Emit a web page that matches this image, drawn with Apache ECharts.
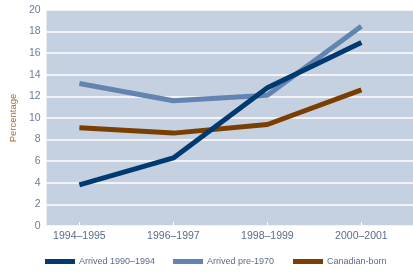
<!DOCTYPE html>
<html>
<head>
<meta charset="utf-8">
<script src="https://cdn.jsdelivr.net/npm/echarts@6/dist/echarts.min.js"></script>
<style>html,body{margin:0;padding:0;background:#fff}#c{width:413px;height:274px}</style>
</head>
<body>
<div id="c"></div>
<script>
var categories = ['1994\u20131995', '1996\u20131997', '1998\u20131999', '2000\u20132001'];
var arrived1990_1994 = [3.8, 6.3, 12.8, 17.0];
var arrivedPre1970 = [13.2, 11.6, 12.1, 18.5];
var canadianBorn = [9.1, 8.6, 9.4, 12.6];
var yTicks = [0, 2, 4, 6, 8, 10, 12, 14, 16, 18, 20];
var seriesNames = ['Arrived 1990\u20131994', 'Arrived pre-1970', 'Canadian-born'];
var yAxisName = 'Percentage';

var FONT = '"Liberation Sans", Arial, sans-serif';
var colors = { a: '#003a70', b: '#6384b0', c: '#7a3f00' };

function pts(arr) { return arr.map(function (v, i) { return [i, v]; }); }
var idx = categories.map(function (_, i) { return i; });

var chart = echarts.init(document.getElementById('c'), null, { renderer: 'canvas' });
chart.setOption({
  animation: false,
  grid: { left: 44, right: 0, top: 10, bottom: 48, show: true, backgroundColor: '#c5d0e1', borderWidth: 0 },
  xAxis: {
    type: 'value', min: -0.349, max: 3.549,
    axisLine: { show: false },
    splitLine: { show: false },
    axisTick: { show: true, inside: true, length: 4, customValues: idx, lineStyle: { color: '#ffffff', width: 1 } },
    axisLabel: { customValues: idx, formatter: function (v) { return categories[Math.round(v)]; },
      color: '#5b6b8a', fontFamily: FONT, fontSize: 10.5, margin: 5 }
  },
  yAxis: {
    type: 'value', min: yTicks[0], max: yTicks[yTicks.length - 1], interval: 2,
    name: yAxisName, nameLocation: 'middle', nameGap: 24, nameRotate: 90,
    nameTextStyle: { color: '#a86f3a', fontFamily: FONT, fontSize: 9.5 },
    axisLine: { show: false }, axisTick: { show: false },
    axisLabel: { color: '#6a7c9e', fontFamily: FONT, fontSize: 10.5, margin: 6 },
    splitLine: { show: true, lineStyle: { color: '#ffffff', width: 1.5 } }
  },
  legend: [
    { data: [seriesNames[0]], left: 45, top: 257 },
    { data: [seriesNames[1]], left: 173, top: 257 },
    { data: [seriesNames[2]], left: 293, top: 257 }
  ].map(function (l) {
    l.icon = 'rect'; l.itemWidth = 30; l.itemHeight = 5; l.itemGap = 4; l.padding = 0;
    l.textStyle = { color: '#5b6b8a', fontFamily: FONT, fontSize: 9, padding: [0, 0, 0, -1] };
    return l;
  }),
  series: [
    { name: seriesNames[1], type: 'line', data: pts(arrivedPre1970), showSymbol: false, z: 2,
      lineStyle: { color: colors.b, width: 5 }, itemStyle: { color: colors.b } },
    { name: seriesNames[2], type: 'line', data: pts(canadianBorn), showSymbol: false, z: 3,
      lineStyle: { color: colors.c, width: 5 }, itemStyle: { color: colors.c } },
    { name: seriesNames[0], type: 'line', data: pts(arrived1990_1994), showSymbol: false, z: 4,
      lineStyle: { color: colors.a, width: 5 }, itemStyle: { color: colors.a } }
  ]
});
</script>
</body>
</html>
